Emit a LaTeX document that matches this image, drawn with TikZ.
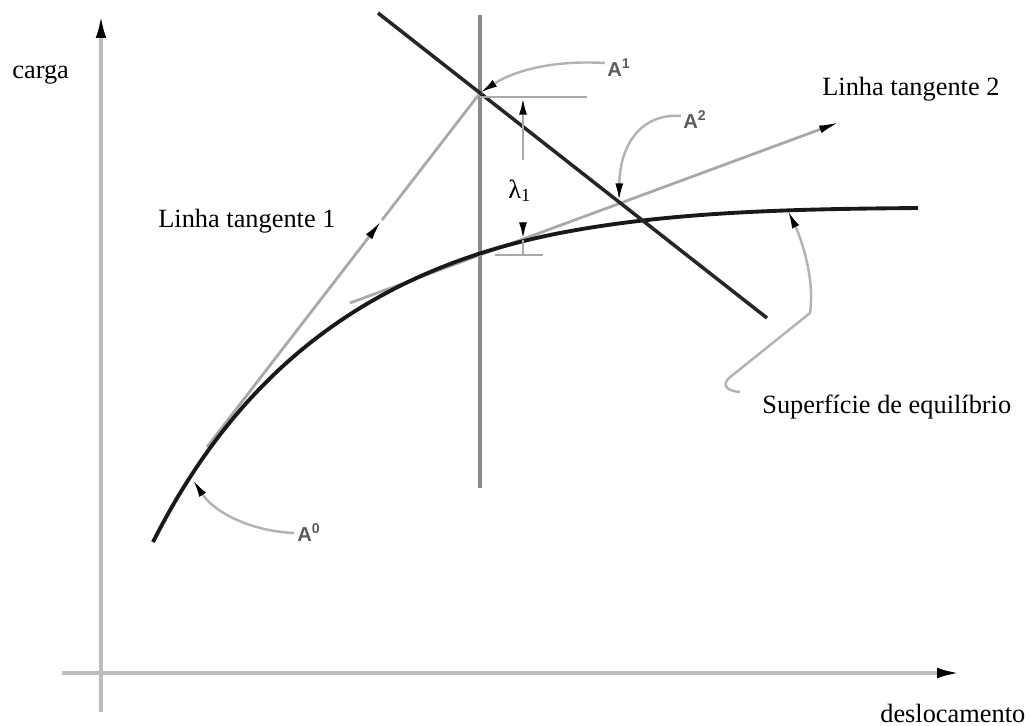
\documentclass[tikz,border=0pt]{standalone}
\usepackage{fontspec}
\setmainfont{Liberation Serif}
\newfontfamily\labelfont{Liberation Sans}
\usepackage{xcolor}
\usepackage{tikz}
\usetikzlibrary{arrows.meta}
\definecolor{axisgray}{HTML}{BDBDBD}
\definecolor{tangray}{HTML}{A9A9A9}
\definecolor{vertgray}{HTML}{8A8A8A}
\definecolor{pointgray}{HTML}{B3B3B3}
\definecolor{darkline}{HTML}{262626}
\definecolor{labelgray}{HTML}{5C5C5C}
\tikzset{
  axisline/.style={line width=2pt,draw=axisgray,-{Latex[length=13pt,width=6pt,color=black]}},
  vertline/.style={line width=2.8pt,draw=vertgray},
  crossline/.style={line width=2pt,draw=darkline},
  curveline/.style={line width=2.2pt,draw=black!90},
  tanline/.style={line width=1.6pt,draw=tangray},
  tanarrow/.style={tanline,-{Latex[length=12pt,width=4.5pt,color=black]}},
  pointer/.style={line width=1.4pt,draw=pointgray,-{Latex[length=10pt,width=4.5pt,color=black]}},
  dimline/.style={line width=1.6pt,draw=tangray},
  dimarrow/.style={dimline,-{Latex[length=10pt,width=4.5pt,color=black]}},
  caption/.style={font=\fontsize{15}{18}\selectfont,inner sep=0pt,anchor=base west},
  ptlabel/.style={font=\labelfont\bfseries\fontsize{11.5}{13}\selectfont,text=labelgray,inner sep=0pt,anchor=base west}
}
\begin{document}
\begin{tikzpicture}[x=0.02cm,y=-0.02cm]
  \useasboundingbox (0,0) rectangle (1031,725);

  % axes
  \coordinate (xstart) at (62,673);
  \coordinate (xend) at (960,673);
  \coordinate (ybottom) at (101,712);
  \coordinate (ytop) at (101,15);
  \draw[axisline] (xstart) -- (xend);
  \draw[axisline] (ybottom) -- (ytop);

  % construction lines
  \coordinate (vtop) at (480,15);
  \coordinate (vbottom) at (480,488);
  \coordinate (dtop) at (378,13);
  \coordinate (dbottom) at (767,318);
  \coordinate (A0) at (193,480);
  \coordinate (A1) at (480,93);
  \coordinate (A2) at (619,201);
  \coordinate (t1start) at (207,447);
  \coordinate (t1mid) at (382,220);
  \coordinate (t2start) at (350,303);
  \coordinate (t2end) at (840,122);
  \coordinate (surfpt) at (788,211);
  \coordinate (cstart) at (153,542);
  \coordinate (cmid) at (560,233);
  \coordinate (cend) at (918,208);

  \draw[vertline] (vtop) -- (vbottom);
  \draw[tanarrow] (t1start) -- (t1mid);
  \draw[tanline] (t1mid) -- (A1);
  \draw[tanarrow] (t2start) -- (t2end);
  \draw[curveline] (cstart) .. controls (240,370) and (370,270) .. (cmid)
    .. controls (674,211) and (800,209) .. (cend);
  \draw[crossline] (dtop) -- (dbottom);

  % lambda dimension
  \coordinate (uleft) at (480,97);
  \coordinate (uright) at (587,97);
  \coordinate (utip) at (523,97);
  \coordinate (ustart) at (523,160);
  \coordinate (lstart) at (523,222);
  \coordinate (ltip) at (523,240);
  \coordinate (lmid) at (523,255);
  \coordinate (lleft) at (495,255);
  \coordinate (lright) at (543,255);
  \draw[dimline] (uleft) -- (uright);
  \draw[dimarrow] (ustart) -- (utip);
  \draw[dimline] (lleft) -- (lright);
  \draw[dimline] (ltip) -- (lmid);
  \draw[dimarrow] (lstart) -- (ltip);
  \node[caption] (lambda) at (508,198) {λ\textsubscript{1}};

  % texts
  \node[caption] (carga) at (12,78) {carga};
  \node[caption] (desloc) at (880,722) {deslocamento};
  \node[caption] (tan1) at (158,227) {Linha tangente 1};
  \node[caption] (tan2) at (822,95) {Linha tangente 2};
  \node[caption] (surf) at (762,413) {Superfície de equilíbrio};

  % point labels
  \node[ptlabel] (lA0) at (297,541) {A\textsuperscript{0}};
  \node[ptlabel] (lA1) at (607,76) {A\textsuperscript{1}};
  \node[ptlabel] (lA2) at (683,128) {A\textsuperscript{2}};
  \coordinate (pA0) at (294,533);
  \coordinate (pA1) at (605,63);
  \coordinate (pA2) at (681,116);
  \coordinate (psurf) at (740,392);

  \draw[pointer] (pA0) .. controls (250,531) and (214,512) .. (A0);
  \draw[pointer] (pA1) .. controls (555,60) and (515,70) .. (A1);
  \draw[pointer] (pA2) .. controls (645,113) and (620,140) .. (A2);
  \draw[pointer] (psurf) .. controls (728,391) and (721,386) .. (729,378) -- (810,313) .. controls (815,278) and (801,238) .. (surfpt);
\end{tikzpicture}
\end{document}
